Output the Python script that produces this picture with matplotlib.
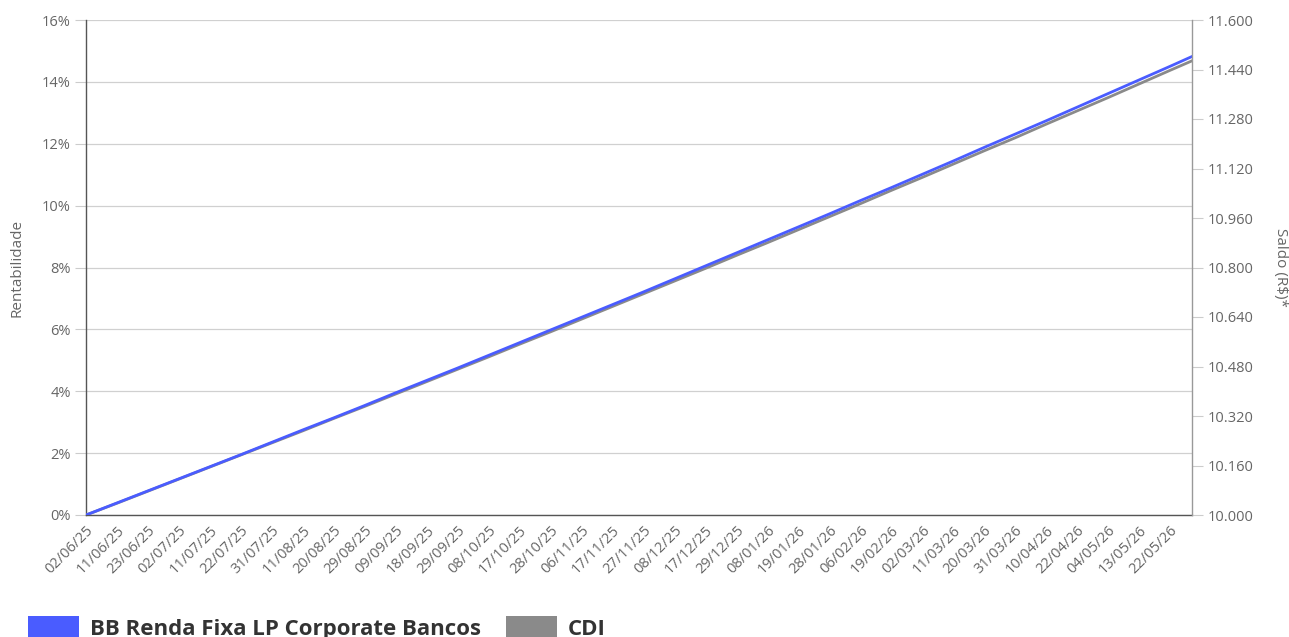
import matplotlib
matplotlib.use("Agg")
import matplotlib.pyplot as plt
from matplotlib.patches import Patch
from matplotlib.ticker import FixedLocator
import pandas as pd

# ---- data ----
holidays = ["2025-06-19", "2025-11-20", "2025-12-25", "2026-01-01", "2026-02-16",
            "2026-02-17", "2026-04-03", "2026-04-21", "2026-05-01"]
start_date = "2025-06-02"
end_date = "2026-05-29"

tick_labels = ["02/06/25", "11/06/25", "23/06/25", "02/07/25", "11/07/25", "22/07/25",
               "31/07/25", "11/08/25", "20/08/25", "29/08/25", "09/09/25", "18/09/25",
               "29/09/25", "08/10/25", "17/10/25", "28/10/25", "06/11/25", "17/11/25",
               "27/11/25", "08/12/25", "17/12/25", "29/12/25", "08/01/26", "19/01/26",
               "28/01/26", "06/02/26", "19/02/26", "02/03/26", "11/03/26", "20/03/26",
               "31/03/26", "10/04/26", "22/04/26", "04/05/26", "13/05/26", "22/05/26"]
point_dates = tick_labels + ["29/05/26"]

fund_pct = [0.00, 0.39, 0.78, 1.17, 1.56, 1.95, 2.35, 2.75, 3.14, 3.54, 3.95, 4.35,
            4.75, 5.16, 5.57, 5.98, 6.39, 6.80, 7.21, 7.63, 8.05, 8.47, 8.89, 9.31,
            9.73, 10.16, 10.58, 11.01, 11.44, 11.88, 12.31, 12.74, 13.18, 13.62,
            14.06, 14.50, 14.82]
cdi_pct = [0.00, 0.38, 0.77, 1.16, 1.55, 1.94, 2.33, 2.72, 3.12, 3.51, 3.91, 4.31,
           4.71, 5.11, 5.52, 5.92, 6.33, 6.74, 7.15, 7.56, 7.97, 8.39, 8.80, 9.22,
           9.64, 10.06, 10.49, 10.91, 11.34, 11.77, 12.19, 12.63, 13.06, 13.49,
           13.93, 14.37, 14.68]

left_ticks = [0, 2, 4, 6, 8, 10, 12, 14, 16]
right_ticks = [10000, 10160, 10320, 10480, 10640, 10800, 10960, 11120, 11280, 11440, 11600]
initial_balance = 10000

series_names = ["BB Renda Fixa LP Corporate Bancos", "CDI"]
colors = ["#4a5cff", "#8a8a8a"]

# ---- business-day index ----
bdays = pd.bdate_range(start_date, end_date, freq="C", holidays=holidays)
pos = {d.strftime("%d/%m/%y"): i for i, d in enumerate(bdays)}
x_pts = [pos[d] for d in point_dates]
x_ticks = [pos[d] for d in tick_labels]
n_last = len(bdays) - 1

plt.rcParams["font.family"] = ["Open Sans", "DejaVu Sans"]

fig = plt.figure(figsize=(12.89, 6.37), dpi=100)
ax = fig.add_axes([86 / 1289, 1 - 515 / 637, (1192 - 86) / 1289, (515 - 20) / 637])

ax.plot(x_pts, cdi_pct, color=colors[1], lw=2.0, zorder=3)
ax.plot(x_pts, fund_pct, color=colors[0], lw=2.0, zorder=4)

ax.set_xlim(0, n_last)
ax.set_ylim(0, 16)
ax.yaxis.set_major_locator(FixedLocator(left_ticks))
ax.set_yticklabels([f"{t}%" for t in left_ticks])
ax.set_xticks(x_ticks)
ax.set_xticklabels(tick_labels, rotation=45, ha="right", rotation_mode="anchor")
ax.grid(axis="y", color="#d0d0d0", lw=0.9)
ax.set_axisbelow(True)

tick_col = "#666666"
tsize = 10.5
ax.tick_params(axis="y", length=8, width=0.8, color="#cccccc", labelcolor=tick_col,
               labelsize=tsize, pad=3)
ax.tick_params(axis="x", length=0, labelcolor=tick_col, labelsize=tsize, pad=6)
ax.spines["top"].set_visible(False)
ax.spines["right"].set_visible(False)
ax.spines["left"].set_color("#555555")
ax.spines["bottom"].set_color("#555555")
ax.spines["left"].set_linewidth(1.0)
ax.spines["bottom"].set_linewidth(1.0)
ax.set_ylabel("Rentabilidade", color=tick_col, fontsize=11, va="center")
ax.yaxis.set_label_coords(-(86 - 17) / 1106, 0.5)

ax2 = ax.twinx()
ax2.set_ylim(initial_balance, initial_balance * 1.16)
ax2.yaxis.set_major_locator(FixedLocator(right_ticks))
ax2.set_yticklabels([f"{t:,}".replace(",", ".") for t in right_ticks])
ax2.tick_params(axis="y", length=8, width=0.8, color="#cccccc", labelcolor=tick_col,
                labelsize=tsize, pad=3)
for s in ["top", "left", "bottom"]:
    ax2.spines[s].set_visible(False)
ax2.spines["right"].set_color("#999999")
ax2.spines["right"].set_linewidth(1.0)
ax2.set_ylabel("Saldo (R$)*", color=tick_col, fontsize=11, rotation=270, va="center")
ax2.yaxis.set_label_coords(1 + (1281 - 1192) / 1106, 0.5)

handles = [Patch(facecolor=c, edgecolor="none") for c in colors]
leg = fig.legend(handles, series_names, loc="lower left", bbox_to_anchor=(28 / 1289, -0.004),
                 ncol=2, frameon=False, handlelength=2.3, handleheight=1.1,
                 handletextpad=0.5, columnspacing=1.1, borderpad=0.0, borderaxespad=0.0,
                 prop={"family": ["Open Sans", "DejaVu Sans"], "weight": "bold", "size": 16})
for t in leg.get_texts():
    t.set_color("#333333")

fig.savefig("out.png", dpi=100)
